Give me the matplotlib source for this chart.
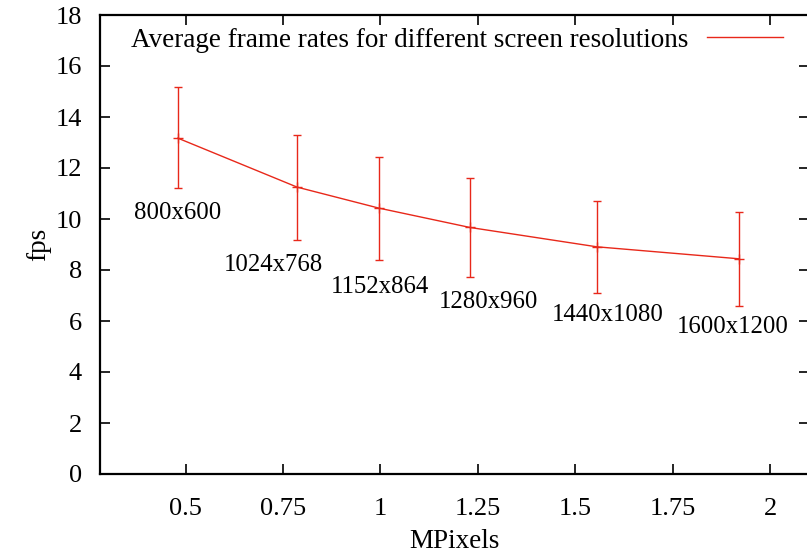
import matplotlib
matplotlib.use("Agg")
import matplotlib.pyplot as plt
from matplotlib.lines import Line2D

# screen resolutions, in megapixels, with measured frame rates
resolutions = ["800x600", "1024x768", "1152x864", "1280x960", "1440x1080", "1600x1200"]
mpixels = [0.48, 0.786, 0.995, 1.229, 1.555, 1.92]
fps_mean = [13.17, 11.25, 10.43, 9.67, 8.91, 8.44]
fps_low = [11.2, 9.19, 8.41, 7.73, 7.09, 6.57]
fps_high = [15.19, 13.3, 12.45, 11.62, 10.72, 10.28]

# where the resolution labels sit (data coordinates)
label_x = [0.479, 0.724, 0.999, 1.277, 1.583, 1.904]
label_y = [10.25, 8.2, 7.35, 6.73, 6.22, 5.75]

x_ticks = [0.5, 0.75, 1, 1.25, 1.5, 1.75, 2]
x_ticklabels = ["0.5", "0.75", "1", "1.25", "1.5", "1.75", "2"]
y_ticks = [0, 2, 4, 6, 8, 10, 12, 14, 16, 18]

plt.rcParams['font.family'] = ['Liberation Serif', 'DejaVu Serif']
fs = 19.5

W, H = 807, 557
fig = plt.figure(figsize=(W / 100, H / 100), dpi=100)
ax = fig.add_axes([100 / W, 1 - 474 / H, 709 / W, 459 / H])

red = '#e8281a'
yerr = [[m - lo for m, lo in zip(fps_mean, fps_low)],
        [hi - m for m, hi in zip(fps_mean, fps_high)]]
ax.errorbar(mpixels, fps_mean, yerr=yerr, color=red, lw=1.0, elinewidth=1.0,
            capsize=3, capthick=1.0, marker='+', markersize=7, mew=1.0)

for name, lx, ly in zip(resolutions, label_x, label_y):
    ax.text(lx, ly, name, ha='center', va='center', fontsize=17.8)

ax.set_xlim(0.28, 2.1)
ax.set_ylim(0, 18)
ax.set_xticks(x_ticks)
ax.set_xticklabels(x_ticklabels)
ax.set_yticks(y_ticks)
ax.tick_params(axis='both', direction='in', length=7, width=1.2, labelsize=19,
               top=True, right=True)
ax.tick_params(axis='x', pad=17)
ax.tick_params(axis='y', pad=13)
for sp in ax.spines.values():
    sp.set_linewidth(1.6)

ax.set_xlabel("MPixels", fontsize=fs, labelpad=7)
ax.set_ylabel("fps", fontsize=fs, labelpad=3)

handle = Line2D([], [], color=red, lw=1.0)
ax.legend([handle], ["Average frame rates for different screen resolutions"],
          loc='center right', bbox_to_anchor=(0.963, 0.9455), frameon=False,
          markerfirst=False, handlelength=2.8, handletextpad=0.7,
          borderpad=0, borderaxespad=0, fontsize=fs)

fig.savefig("out.png", dpi=100)
